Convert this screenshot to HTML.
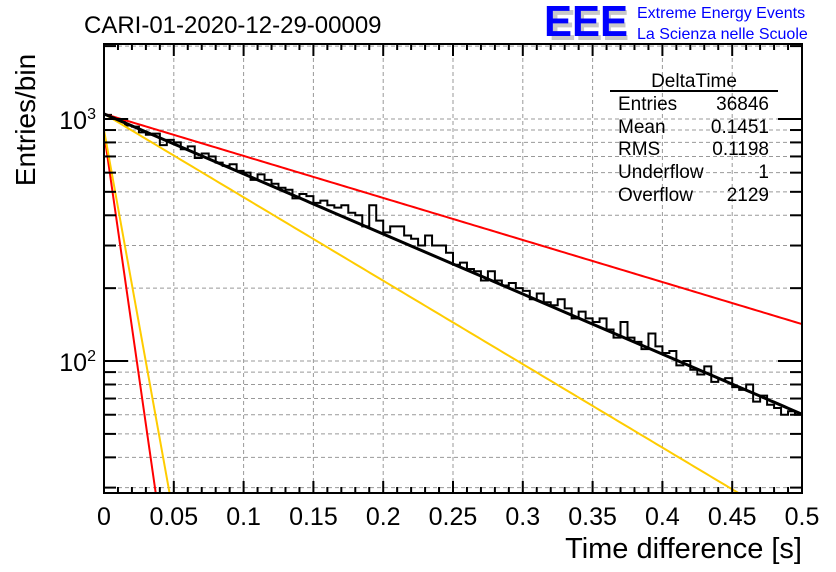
<!DOCTYPE html>
<html><head><meta charset="utf-8"><style>
html,body{margin:0;padding:0;background:#fff;}
svg{display:block;font-family:"Liberation Sans",sans-serif;}
</style></head><body>
<svg id="c" width="836" height="572" viewBox="0 0 836 572">
<text x="84" y="33" font-size="24">CARI-01-2020-12-29-00009</text>
<g>
<text x="549" y="40" font-size="44" fill="#c8c8c8" font-weight="bold" textLength="80" lengthAdjust="spacingAndGlyphs">EEE</text>
<text x="544" y="36" font-size="44" fill="#0000ff" font-weight="bold" textLength="84" lengthAdjust="spacingAndGlyphs">EEE</text>
<text x="637" y="18" font-size="16" fill="#0000ff">Extreme Energy Events</text>
<text x="637" y="39" font-size="16" fill="#0000ff">La Scienza nelle Scuole</text>
</g>
<g id="grid"></g><g id="marks"></g><g id="axes"></g>
<g font-size="19">
<text x="694" y="87" text-anchor="middle" font-size="19">DeltaTime</text>
<line x1="610" y1="91" x2="778" y2="91" stroke="#000" stroke-width="2"/>
<text x="618" y="110">Entries</text><text x="769" y="110" text-anchor="end">36846</text>
<text x="618" y="133">Mean</text><text x="769" y="133" text-anchor="end">0.1451</text>
<text x="618" y="155">RMS</text><text x="769" y="155" text-anchor="end">0.1198</text>
<text x="618" y="178">Underflow</text><text x="769" y="178" text-anchor="end">1</text>
<text x="618" y="201">Overflow</text><text x="769" y="201" text-anchor="end">2129</text>
</g>
<text x="802" y="558" font-size="29" text-anchor="end">Time difference [s]</text>
<text transform="translate(35,120) rotate(-90)" font-size="28" text-anchor="middle">Entries/bin</text>
</svg>
<script>
const counts=[1040,1000,990,940,930,880,860,870,780,820,
800,750,770,690,720,700,660,640,650,610,
600,560,590,560,540,520,510,470,490,480,
450,460,440,430,440,410,400,360,440,380,
340,360,360,330,320,300,330,300,300,280,
250,255,240,235,215,235,215,205,210,200,
195,180,190,175,170,180,165,150,160,150,
145,150,135,125,145,125,120,112,130,115,
108,110,96,100,92,88,95,82,84,85,
78,76,80,68,72,66,64,60,62,60];
const binWidth=0.005;
const xTicks=[0,0.05,0.1,0.15,0.2,0.25,0.3,0.35,0.4,0.45,0.5];
const xTickLabels=["0","0.05","0.1","0.15","0.2","0.25","0.3","0.35","0.4","0.45","0.5"];
const fitBlack=[1050,0.175];
const fitRedSlow=[1050,0.25];
const fitYellowSlow=[1050,0.126];
const fitRedFast=[880,0.0108];
const fitYellowFast=[900,0.0136];
const L=104,R=802,T=44,B=493,XMIN=0,XMAX=0.5,YMIN=Math.log10(28.5),YMAX=Math.log10(2040);
const sx=v=>L+(v-XMIN)/(XMAX-XMIN)*(R-L);
const sy=v=>B-(Math.log10(v)-YMIN)/(YMAX-YMIN)*(B-T);
const NS="http://www.w3.org/2000/svg";
function mk(tag,attrs,parent){const e=document.createElementNS(NS,tag);for(const k in attrs)e.setAttribute(k,attrs[k]);parent.appendChild(e);return e;}
const grid=document.getElementById('grid'),marks=document.getElementById('marks'),axes=document.getElementById('axes');
xTicks.forEach((t,i)=>{if(i>0&&i<xTicks.length-1){const g=mk('line',{x1:sx(t),x2:sx(t),y1:T,y2:B,stroke:'#999','stroke-dasharray':'4,3'},grid);

}});
const yt=[];[10,100,1000].forEach(d=>{for(let m=1;m<10;m++){const v=d*m;if(v>=28.5&&v<=2040)yt.push(v);}});
yt.forEach(v=>{const g=mk('line',{x1:L,x2:R,y1:sy(v),y2:sy(v),stroke:'#999','stroke-dasharray':'4,3'},grid);

});
let d='';counts.forEach((c,i)=>{const x0=sx(i*binWidth),x1=sx((i+1)*binWidth),y=sy(c);d+=(i===0?'M'+x0+','+y:'V'+y)+'H'+x1;});
const h=mk('path',{d:d,fill:'none',stroke:'#000','stroke-width':2},marks);


function curve(p,color,w,name){let s='';const xEnd=Math.min(XMAX,p[1]*Math.log(p[0]/28.5));for(let k=0;k<=200;k++){const x=xEnd*k/200;const y=p[0]*Math.exp(-x/p[1]);s+=(k?'L':'M')+sx(x).toFixed(2)+','+sy(y).toFixed(2);}
const e=mk('path',{d:s,fill:'none',stroke:color,'stroke-width':w},marks);

}
curve(fitRedSlow,'#ff0000',2,'fit-upper-red');
curve(fitYellowSlow,'#ffcc00',2,'fit-lower-yellow');
curve(fitRedFast,'#ff0000',2,'fast-red');
curve(fitYellowFast,'#ffcc00',2,'fast-yellow');
curve(fitBlack,'#000',3,'fit-line');
const f=mk('rect',{x:L,y:T,width:R-L,height:B-T,fill:'none',stroke:'#000','stroke-width':2},axes);


for(let k=0;k<=50;k++){const x=sx(k*0.01);const len=(k%5===0)?12:6;
mk('line',{x1:x,x2:x,y1:B,y2:B-len,stroke:'#000','stroke-width':2},axes);
mk('line',{x1:x,x2:x,y1:T,y2:T+len,stroke:'#000','stroke-width':2},axes);}
yt.forEach(v=>{const len=(v===100||v===1000)?24:12;
mk('line',{x1:L,x2:L+len,y1:sy(v),y2:sy(v),stroke:'#000','stroke-width':2},axes);
mk('line',{x1:R,x2:R-len,y1:sy(v),y2:sy(v),stroke:'#000','stroke-width':2},axes);});
xTicks.forEach((t,i)=>{const e=mk('text',{x:sx(t),y:525,'font-size':25,'text-anchor':'middle'},axes);e.textContent=xTickLabels[i];

});
[[100,'2'],[1000,'3']].forEach(p=>{const e=mk('text',{x:96,y:sy(p[0])+10,'font-size':25,'text-anchor':'end'},axes);
e.innerHTML='10<tspan dy="-10" font-size="16">'+p[1]+'</tspan>';

});
</script>
</body></html>
